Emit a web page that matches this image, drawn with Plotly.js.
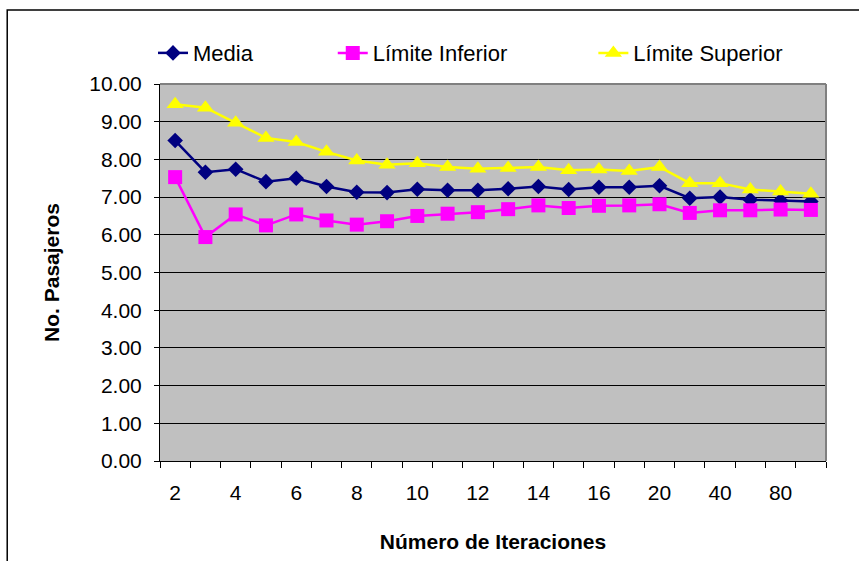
<!DOCTYPE html>
<html>
<head>
<meta charset="utf-8">
<script src="https://cdn.plot.ly/plotly-3.0.1.min.js"></script>
<style>
  html, body { margin: 0; padding: 0; background: #ffffff; }
  #chart { width: 859px; height: 561px; }
</style>
</head>
<body>
<div id="chart"></div>
<script>
// Number of iterations (category axis)
const iteraciones = ['2','3','4','5','6','7','8','9','10','11','12','13','14','15','16','18','20','30','40','60','80','100'];

// Mean number of passengers and its confidence bounds
const media = [8.50, 7.66, 7.74, 7.41, 7.50, 7.28, 7.13, 7.12, 7.21, 7.18, 7.18,
               7.22, 7.28, 7.20, 7.26, 7.26, 7.30, 6.97, 7.00, 6.93, 6.91, 6.88];
const limiteInferior = [7.53, 5.94, 6.54, 6.25, 6.54, 6.38, 6.27, 6.36, 6.50, 6.56, 6.60,
                        6.68, 6.78, 6.71, 6.77, 6.78, 6.81, 6.58, 6.65, 6.65, 6.67, 6.66];
const limiteSuperior = [9.46, 9.37, 8.97, 8.57, 8.46, 8.20, 7.97, 7.86, 7.90, 7.80, 7.75,
                        7.77, 7.80, 7.71, 7.73, 7.69, 7.80, 7.37, 7.37, 7.20, 7.15, 7.09];

// Every other category gets a label
const etiquetas = iteraciones.map((c, i) => (i % 2 === 0 ? c : ''));

const FONT = 'Arial, "Liberation Sans", sans-serif';

const traces = [
  {
    x: iteraciones, y: media, name: 'Media', type: 'scatter', mode: 'lines+markers',
    line: { color: '#000080', width: 2.5 },
    marker: { symbol: 'diamond', size: 12, color: '#000080' },
    legend: 'legend'
  },
  {
    x: iteraciones, y: limiteInferior, name: 'Límite Inferior', type: 'scatter', mode: 'lines+markers',
    line: { color: '#FF00FF', width: 2.5 },
    marker: { symbol: 'square', size: 14, color: '#FF00FF' },
    legend: 'legend2'
  },
  {
    x: iteraciones, y: limiteSuperior, name: 'Límite Superior', type: 'scatter', mode: 'lines+markers',
    line: { color: '#FFFF00', width: 2.5 },
    marker: { symbol: 'triangle-up', size: 15, color: '#FFFF00' },
    legend: 'legend3'
  }
];

const legendBase = {
  orientation: 'h', yanchor: 'middle', y: 1.082, xanchor: 'left',
  bgcolor: 'rgba(0,0,0,0)', font: { family: FONT, size: 22, color: '#000000' },
  itemwidth: 30
};

const layout = {
  width: 859, height: 561,
  margin: { l: 160, r: 33, t: 84, b: 100 },
  paper_bgcolor: '#ffffff',
  plot_bgcolor: '#C0C0C0',
  font: { family: FONT, color: '#000000' },
  showlegend: true,
  legend: Object.assign({}, legendBase, { x: -0.0105 }),
  legend2: Object.assign({}, legendBase, { x: 0.2594 }),
  legend3: Object.assign({}, legendBase, { x: 0.6507 }),
  xaxis: {
    type: 'category',
    range: [-0.5, iteraciones.length - 0.5],
    tickmode: 'array', tickvals: iteraciones, ticktext: etiquetas,
    tickson: 'boundaries', tickangle: 0,
    ticks: 'outside', ticklen: 6, tickcolor: '#000000', tickwidth: 1,
    ticklabelstandoff: 13,
    tickfont: { family: FONT, size: 21, color: '#000000' },
    showline: true, linecolor: '#000000', linewidth: 1,
    showgrid: false, zeroline: false,
    title: { text: 'Número de Iteraciones', font: { family: FONT, size: 21, color: '#000000', weight: 'bold' }, standoff: 31 }
  },
  yaxis: {
    range: [0, 10], tickmode: 'linear', tick0: 0, dtick: 1, tickformat: '.2f',
    ticks: 'outside', ticklen: 5, tickcolor: '#000000', tickwidth: 1,
    ticklabelstandoff: 8,
    tickfont: { family: FONT, size: 21, color: '#000000' },
    showline: true, linecolor: '#000000', linewidth: 1,
    showgrid: true, gridcolor: '#000000', gridwidth: 1, zeroline: false,
    title: { text: 'No. Pasajeros', font: { family: FONT, size: 21, color: '#000000', weight: 'bold' }, standoff: 23 }
  },
  shapes: [
    // grey frame on the top and right of the plotting area
    { type: 'line', xref: 'paper', yref: 'paper', x0: 0, x1: 1, y0: 1, y1: 1, line: { color: '#808080', width: 2 }, layer: 'above' },
    { type: 'line', xref: 'paper', yref: 'paper', x0: 1, x1: 1, y0: 0, y1: 1, line: { color: '#808080', width: 2 }, layer: 'above' },
    // outer chart frame
    { type: 'rect', xref: 'paper', yref: 'paper', x0: -0.2294, x1: 1.08, y0: -0.32, y1: 1.196, line: { color: '#000000', width: 1.5 }, layer: 'below' }
  ]
};

Plotly.newPlot('chart', traces, layout, { staticPlot: true, displayModeBar: false });
</script>
</body>
</html>
